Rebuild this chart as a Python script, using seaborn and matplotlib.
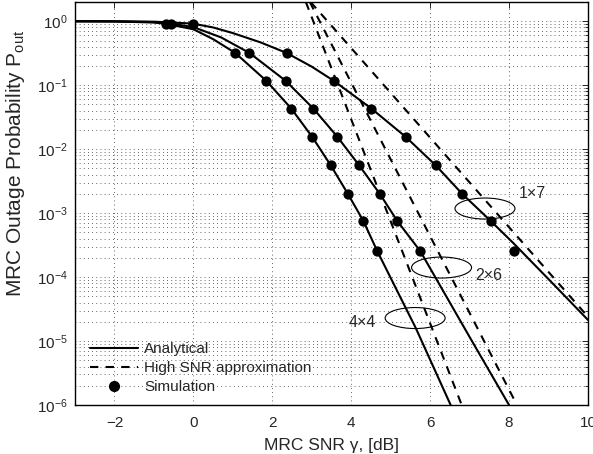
import numpy as np
import pandas as pd
import seaborn as sns
import matplotlib.pyplot as plt
from matplotlib.patches import Ellipse
from matplotlib.lines import Line2D
from matplotlib.ticker import LogLocator, FixedLocator, NullFormatter

# MRC outage probability vs SNR, three antenna configs (N x M)
# values

# analytical curves
snr_an_4x4 = [-3, -2, -1, -0.7, 0, 0.5, 1.06, 1.85, 2.48, 3.01, 3.48, 3.92, 4.31, 4.66, 5.64, 6.52]
pout_an_4x4 = [1.0, 0.993, 0.955, 0.912, 0.75, 0.525, 0.32, 0.117, 0.0432, 0.0156, 0.0056,
               0.00198, 7.5e-4, 2.55e-4, 1.58e-5, 1e-6]

snr_an_2x6 = [-3, -2, -1, -0.57, 0, 0.7, 1.42, 2.34, 3.04, 3.65, 4.20, 4.73, 5.17, 5.75, 7.04, 8.0]
pout_an_2x6 = [1.0, 0.995, 0.97, 0.92, 0.81, 0.56, 0.32, 0.117, 0.0432, 0.0156, 0.0056,
               0.00198, 7.5e-4, 2.55e-4, 1.05e-5, 1e-6]

snr_an_1x7 = [-3, -2, -1, -0.02, 0.5, 1.0, 1.7, 2.36, 3.0, 3.56, 4.51, 5.38, 6.14, 6.82, 7.54,
              8.13, 9.0, 10.0]
pout_an_1x7 = [1.0, 0.998, 0.985, 0.92, 0.80, 0.653, 0.468, 0.32, 0.195, 0.117, 0.0432, 0.0156,
               0.0056, 0.00198, 7.5e-4, 3.3e-4, 9.3e-5, 2.14e-5]

# high SNR approximation (straight lines on this scale)
snr_hi_4x4 = [2.85, 6.80]
pout_hi_4x4 = [2.0, 1e-6]
snr_hi_2x6 = [2.95, 8.2]
pout_hi_2x6 = [2.0, 1e-6]
snr_hi_1x7 = [2.97, 10.0]
pout_hi_1x7 = [2.0, 2.4e-5]

# simulation points
pout_sim = [0.90, 0.32, 0.117, 0.0432, 0.0156, 0.0056, 0.0020, 7.5e-4, 2.55e-4]
snr_sim_4x4 = [-0.70, 1.06, 1.85, 2.48, 3.01, 3.48, 3.92, 4.31, 4.66]
snr_sim_2x6 = [-0.57, 1.42, 2.34, 3.04, 3.65, 4.20, 4.73, 5.17, 5.75]
snr_sim_1x7 = [-0.02, 2.36, 3.56, 4.51, 5.38, 6.14, 6.82, 7.54, 8.13]

# ellipse labels: text, ellipse centre (snr, pout), text position (snr, pout)
labels = ['1\u00d77', '2\u00d76', '4\u00d74']
ell_snr = [7.39, 6.29, 5.62]
ell_pout = [1.18e-3, 1.41e-4, 2.29e-5]
txt_snr = [8.25, 7.14, 3.93]
txt_pout = [2.05e-3, 1.07e-4, 1.94e-5]

sns.set_style('white')
plt.rcParams['font.family'] = ['Liberation Sans', 'DejaVu Sans']
plt.rcParams['mathtext.fontset'] = 'custom'
plt.rcParams['mathtext.rm'] = 'Liberation Sans'
plt.rcParams['mathtext.it'] = 'Liberation Sans:italic'

fig = plt.figure(figsize=(5.93, 4.54), dpi=100)
ax = fig.add_axes([0.1265, 0.1079, 0.865, 0.8877])

dash = (0, (4, 3.5))
for x, y in [(snr_an_4x4, pout_an_4x4), (snr_an_2x6, pout_an_2x6), (snr_an_1x7, pout_an_1x7)]:
    sns.lineplot(x=x, y=y, color='k', lw=1.5, ax=ax)
for x, y in [(snr_hi_4x4, pout_hi_4x4), (snr_hi_2x6, pout_hi_2x6), (snr_hi_1x7, pout_hi_1x7)]:
    sns.lineplot(x=x, y=y, color='k', lw=1.5, linestyle=dash, ax=ax)
for x in [snr_sim_4x4, snr_sim_2x6, snr_sim_1x7]:
    sns.scatterplot(x=x, y=pout_sim, color='k', s=55, linewidth=0, ax=ax, zorder=3)

ax.set_yscale('log')
ax.set_xlim(-3, 10)
ax.set_ylim(1e-6, 2)
ax.xaxis.set_major_locator(FixedLocator([-2, 0, 2, 4, 6, 8, 10]))
ax.yaxis.set_major_locator(LogLocator(base=10, numticks=20))
ax.yaxis.set_minor_locator(LogLocator(base=10, subs=np.arange(2, 10), numticks=20))
ax.yaxis.set_minor_formatter(NullFormatter())

ax.grid(True, which='major', axis='both', color='0.2', lw=0.6, linestyle=(0, (1, 4)))
ax.grid(True, which='minor', axis='y', color='0.2', lw=0.6, linestyle=(0, (1, 4)))
ax.tick_params(which='both', direction='in', top=True, right=True, width=0.7, labelsize=11)
ax.tick_params(axis='x', pad=8)
ax.tick_params(axis='y', pad=5)
ax.tick_params(which='major', length=4)
ax.tick_params(which='minor', length=2.5)
for s in ax.spines.values():
    s.set_linewidth(1.0)
    s.set_color('k')

ax.set_xlabel('MRC SNR \u03b3, [dB]', fontsize=12.5, labelpad=6)
ax.set_ylabel('MRC Outage Probability P$_{\\mathrm{out}}$', fontsize=15)
ax.yaxis.set_label_coords(-0.093, 0.6)

fig.canvas.draw()
to_axes = ax.transAxes.inverted()
for lab, ex, ey, tx, ty in zip(labels, ell_snr, ell_pout, txt_snr, txt_pout):
    cx, cy = to_axes.transform(ax.transData.transform((ex, ey)))
    ax.add_patch(Ellipse((cx, cy), 60 / 513, 21 / 403, transform=ax.transAxes,
                         fill=False, edgecolor='k', lw=0.8))
    ax.text(tx, ty, lab, fontsize=11.5, va='center', ha='left')

handles = [Line2D([], [], color='k', lw=1.5),
           Line2D([], [], color='k', lw=1.5, linestyle=dash),
           Line2D([], [], color='k', lw=0, marker='o', markersize=7)]
ax.legend(handles, ['Analytical', 'High SNR approximation', 'Simulation'],
          loc='lower left', bbox_to_anchor=(0.03, 0.027), frameon=False, fontsize=11,
          handlelength=3.1, handletextpad=0.4, labelspacing=0.33, borderpad=0, borderaxespad=0)

fig.savefig('out.png', dpi=100)
